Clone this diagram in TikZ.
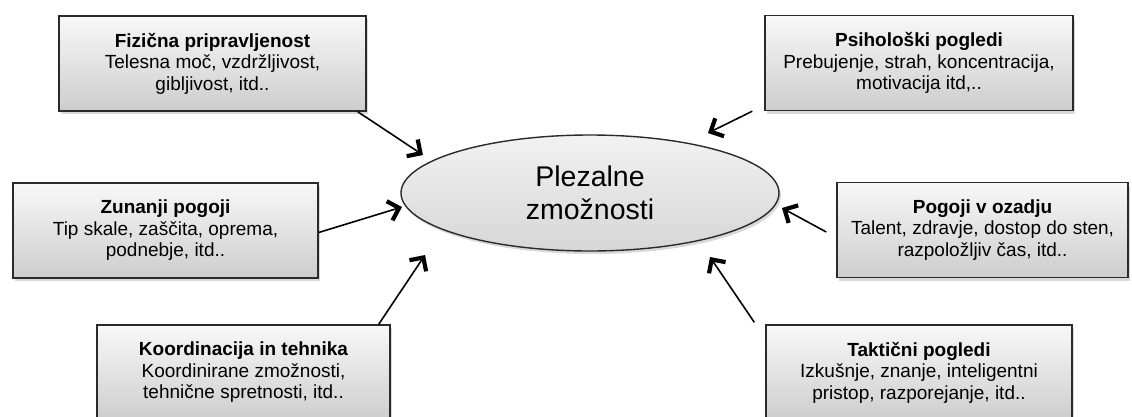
\documentclass[tikz,border=0pt]{standalone}
\usepackage{fontspec}
\setmainfont{Liberation Sans}
\usetikzlibrary{shapes.geometric,arrows.meta,shadows}
\definecolor{boxtop}{HTML}{F8F8F8}
\definecolor{boxbot}{HTML}{CDCDCD}
\definecolor{elltop}{HTML}{F2F2F2}
\definecolor{ellbot}{HTML}{D6D6D6}
\definecolor{edge}{HTML}{2A2A2A}
\begin{document}
\begin{tikzpicture}[x=1pt,y=-1pt,
  box/.style={draw=edge, line width=1.4pt, top color=boxtop, bottom color=boxbot,
    minimum height=95pt, inner sep=0pt, align=center,
    font=\fontsize{19}{21.5}\selectfont,
    drop shadow={shadow xshift=2pt,shadow yshift=-3pt,opacity=0.3}},
  ell/.style={ellipse, draw=edge, line width=1.4pt, top color=elltop, bottom color=ellbot,
    minimum width=378pt, minimum height=116pt, inner sep=0pt, align=center,
    font=\fontsize{28.5}{33}\selectfont,
    drop shadow={shadow xshift=2pt,shadow yshift=-3pt,opacity=0.3}},
  arr/.style={line width=1.6pt, -{Straight Barb[length=10pt,width=20pt,line width=4.2pt]}}
]
\useasboundingbox (0,0) rectangle (1132,416);

\node[box, minimum width=307pt] (b1) at (212.5,63.5)
  {\textbf{Fizična pripravljenost}\\Telesna moč, vzdržljivost,\\gibljivost, itd..};
\node[box, minimum width=308pt] (b2) at (919,63)
  {\textbf{Psihološki pogledi}\\Prebujenje, strah, koncentracija,\\motivacija itd,..};
\node[box, minimum width=305pt] (b3) at (165.5,230.5)
  {\textbf{Zunanji pogoji}\\Tip skale, zaščita, oprema,\\podnebje, itd..};
\node[box, minimum width=291pt] (b4) at (982.5,230)
  {\textbf{Pogoji v ozadju}\\Talent, zdravje, dostop do sten,\\razpoložljiv čas, itd..};
\node[box, minimum width=293pt] (b5) at (243.5,372.5)
  {\textbf{Koordinacija in tehnika}\\Koordinirane zmožnosti,\\tehnične spretnosti, itd..};
\node[box, minimum width=306pt] (b6) at (919,372.5)
  {\textbf{Taktični pogledi}\\Izkušnje, znanje, inteligentni\\pristop, razporejanje, itd..};

\node[ell] (e) at (590,193) {Plezalne\\zmožnosti};

\coordinate (t1) at (423,155);
\coordinate (t2) at (708,133);
\coordinate (t3) at (402,207);
\coordinate (t4) at (782,208);
\coordinate (t5) at (425,255);
\coordinate (t6) at (710,257);

\draw[arr] ([xshift=-9pt]b1.south east) -- (t1);
\draw[arr] ([xshift=-12pt]b2.south west) -- (t2);
\draw[arr] ([yshift=-2pt]b3.east) -- (t3);
\draw[arr] ([xshift=-10pt,yshift=-2pt]b4.west) -- (t4);
\draw[arr] ([xshift=-12pt]b5.north east) -- (t5);
\draw[arr] ([xshift=-11pt,yshift=2pt]b6.north west) -- (t6);
\end{tikzpicture}
\end{document}
